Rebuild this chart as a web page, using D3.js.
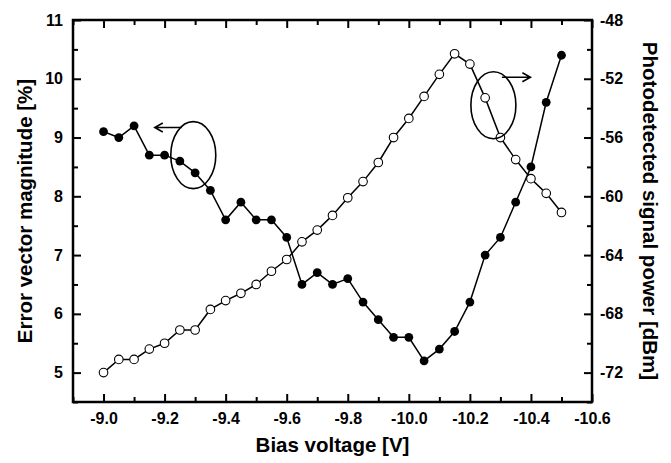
<!DOCTYPE html>
<html>
<head>
<meta charset="utf-8">
<script src="https://cdn.jsdelivr.net/npm/d3@7"></script>
<style>
  html, body { margin: 0; padding: 0; background: #fff; }
  svg { display: block; font-family: Arial, "Liberation Sans", sans-serif; }
</style>
</head>
<body>
<svg id="chart" width="671" height="463"></svg>
<script>
// ---- data ----
const biasVoltage = [-9.0, -9.05, -9.1, -9.15, -9.2, -9.25, -9.3, -9.35, -9.4, -9.45,
  -9.5, -9.55, -9.6, -9.65, -9.7, -9.75, -9.8, -9.85, -9.9, -9.95,
  -10.0, -10.05, -10.1, -10.15, -10.2, -10.25, -10.3, -10.35, -10.4, -10.45, -10.5];
const evm = [9.1, 9.0, 9.2, 8.7, 8.7, 8.6, 8.4, 8.1, 7.6, 7.9,
  7.6, 7.6, 7.3, 6.5, 6.7, 6.5, 6.6, 6.2, 5.9, 5.6,
  5.6, 5.2, 5.4, 5.7, 6.2, 7.0, 7.3, 7.9, 8.5, 9.6, 10.4];
const power = [-72.0, -71.1, -71.1, -70.4, -70.0, -69.1, -69.1, -67.7, -67.1, -66.6,
  -66.0, -65.1, -64.3, -63.1, -62.3, -61.3, -60.1, -59.0, -57.7, -56.0,
  -54.7, -53.2, -51.7, -50.3, -51.0, -53.3, -56.0, -57.5, -58.8, -59.8, -61.1];
const xTicks = [-9.0, -9.2, -9.4, -9.6, -9.8, -10.0, -10.2, -10.4, -10.6];
const xMinorTicks = [-8.9, -9.1, -9.3, -9.5, -9.7, -9.9, -10.1, -10.3, -10.5];
const yLeftTicks = [5, 6, 7, 8, 9, 10, 11];
const yLeftMinor = [4.5, 5.5, 6.5, 7.5, 8.5, 9.5, 10.5];
const yRightTicks = [-72, -68, -64, -60, -56, -52, -48];
const yRightMinor = [-74, -70, -66, -62, -58, -54, -50];
const xTitle = "Bias voltage [V]";
const yLeftTitle = "Error vector magnitude [%]";
const yRightTitle = "Photodetected signal power [dBm]";

// ---- layout ----
const L = 73, R = 592, T = 20, B = 402;
const svg = d3.select("#chart");
const x = d3.scaleLinear().domain([-8.9, -10.6]).range([L, R]);
const yL = d3.scaleLinear().domain([4.5, 11]).range([B, T]);
const yR = d3.scaleLinear().domain([-74, -48]).range([B, T]);

const MAJ = 8, MIN = 5, FS = 16, TFS = 20.5;

function styleAxis(g) {
  g.select(".domain").remove();
  g.selectAll(".tick line").attr("stroke", "#000").attr("stroke-width", 2);
  g.selectAll(".tick text").attr("fill", "#000").attr("font-size", FS)
    .attr("font-weight", "bold").attr("font-family", "Arial, 'Liberation Sans', sans-serif");
}

// bottom
svg.append("g").attr("transform", `translate(0,${B})`)
  .call(d3.axisBottom(x).tickValues(xTicks).tickSizeInner(-MAJ).tickSizeOuter(0)
    .tickPadding(11).tickFormat(d => d.toFixed(1)))
  .call(styleAxis);
svg.append("g").attr("transform", `translate(0,${B})`)
  .call(d3.axisBottom(x).tickValues(xMinorTicks).tickSizeInner(-MIN).tickSizeOuter(0).tickFormat(""))
  .call(styleAxis);
// top
svg.append("g").attr("transform", `translate(0,${T})`)
  .call(d3.axisTop(x).tickValues(xTicks).tickSizeInner(-MAJ).tickSizeOuter(0).tickFormat(""))
  .call(styleAxis);
svg.append("g").attr("transform", `translate(0,${T})`)
  .call(d3.axisTop(x).tickValues(xMinorTicks).tickSizeInner(-MIN).tickSizeOuter(0).tickFormat(""))
  .call(styleAxis);
// left
svg.append("g").attr("transform", `translate(${L},0)`)
  .call(d3.axisLeft(yL).tickValues(yLeftTicks).tickSizeInner(-MAJ).tickSizeOuter(0)
    .tickPadding(10).tickFormat(d => String(d)))
  .call(styleAxis);
svg.append("g").attr("transform", `translate(${L},0)`)
  .call(d3.axisLeft(yL).tickValues(yLeftMinor).tickSizeInner(-MIN).tickSizeOuter(0).tickFormat(""))
  .call(styleAxis);
// right
svg.append("g").attr("transform", `translate(${R},0)`)
  .call(d3.axisRight(yR).tickValues(yRightTicks).tickSizeInner(-MAJ).tickSizeOuter(0)
    .tickPadding(8).tickFormat(d => String(d)))
  .call(styleAxis);
svg.append("g").attr("transform", `translate(${R},0)`)
  .call(d3.axisRight(yR).tickValues(yRightMinor).tickSizeInner(-MIN).tickSizeOuter(0).tickFormat(""))
  .call(styleAxis);

// frame
svg.append("rect").attr("x", L).attr("y", T).attr("width", R - L).attr("height", B - T)
  .attr("fill", "none").attr("stroke", "#000").attr("stroke-width", 2.5);

// ---- series ----
const evmData = biasVoltage.map((v, i) => ({ v, y: evm[i] }));
const powData = biasVoltage.map((v, i) => ({ v, y: power[i] }));

svg.append("path").datum(evmData)
  .attr("d", d3.line().x(d => x(d.v)).y(d => yL(d.y)))
  .attr("fill", "none").attr("stroke", "#000").attr("stroke-width", 1.5);
svg.append("g").selectAll("circle").data(evmData).join("circle")
  .attr("cx", d => x(d.v)).attr("cy", d => yL(d.y)).attr("r", 4.4).attr("fill", "#000");

svg.append("path").datum(powData)
  .attr("d", d3.line().x(d => x(d.v)).y(d => yR(d.y)))
  .attr("fill", "none").attr("stroke", "#000").attr("stroke-width", 1.5);
svg.append("g").selectAll("circle").data(powData).join("circle")
  .attr("cx", d => x(d.v)).attr("cy", d => yR(d.y)).attr("r", 4.3)
  .attr("fill", "#fff").attr("stroke", "#000").attr("stroke-width", 1.1);

// ---- annotations (ellipses + arrows) ----
function ellipse(cx, cy) {
  svg.append("ellipse").attr("cx", cx).attr("cy", cy).attr("rx", 22.5).attr("ry", 33.5)
    .attr("fill", "none").attr("stroke", "#000").attr("stroke-width", 1.6);
}
function arrow(x1, x2, yy) {
  const dir = Math.sign(x2 - x1);
  svg.append("path").attr("d", `M${x1},${yy}H${x2}M${x2 - dir * 8},${yy - 4.5}L${x2},${yy}L${x2 - dir * 8},${yy + 4.5}`)
    .attr("fill", "none").attr("stroke", "#000").attr("stroke-width", 1.6);
}
ellipse(x(-9.294), yL(8.70));
arrow(x(-9.294) - 11.5, x(-9.294) - 38.5, yL(9.17));
ellipse(x(-10.277), yR(-53.8));
arrow(x(-10.277) + 8.5, x(-10.277) + 37, yR(-51.9));

// ---- titles ----
svg.append("text").attr("x", (L + R) / 2).attr("y", 452).attr("text-anchor", "middle")
  .attr("font-size", TFS).attr("font-weight", "bold").text(xTitle);
svg.append("text").attr("transform", `translate(32,${(T + B) / 2}) rotate(-90)`)
  .attr("text-anchor", "middle").attr("font-size", TFS).attr("font-weight", "bold").text(yLeftTitle);
svg.append("text").attr("transform", `translate(643,${(T + B) / 2}) rotate(90)`)
  .attr("text-anchor", "middle").attr("font-size", TFS).attr("font-weight", "bold").text(yRightTitle);
</script>
</body>
</html>
